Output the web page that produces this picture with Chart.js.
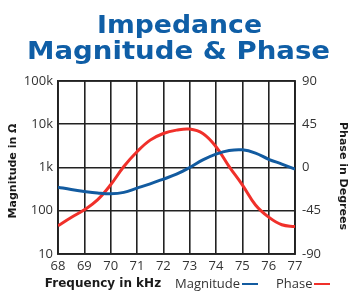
<!DOCTYPE html>
<html>
<head>
<meta charset="utf-8">
<script src="https://cdn.jsdelivr.net/npm/chart.js@4/dist/chart.umd.min.js"></script>
<style>
  html, body { margin: 0; padding: 0; background: #fff; }
  #wrap { position: relative; width: 351px; height: 297px; }
</style>
</head>
<body>
<div id="wrap"><canvas id="impChart" width="351" height="297"></canvas></div>
<script>
// frequency in kHz
const freq = [68, 68.5, 69, 69.5, 70, 70.5, 71, 71.5, 72, 72.5, 73, 73.5, 74, 74.5, 75, 75.5, 76, 76.5, 77];
// impedance magnitude in ohms
const magnitude = [352, 310, 280, 258, 247, 266, 334, 420, 540, 700, 1000, 1500, 2040, 2470, 2560, 2150, 1550, 1200, 920];
// phase in degrees
const phase = [-60.6, -52, -44, -33.7, -18, 1, 16.4, 28.5, 35.4, 38.9, 40, 35.4, 21.6, 1, -18, -39, -51.6, -59.6, -61.4];
const magTicks = [10, 100, 1000, 10000, 100000];
const magLabels = ['10', '100', '1k', '10k', '100k'];
const titleLines = ['Impedance', 'Magnitude & Phase'];

const blue = '#125ba0';
const red = '#f0302a';
const gridColor = '#222222';

const frameBox = {
    id: 'frameBox',
    beforeDatasetsDraw(chart) {
        const a = chart.chartArea;
        const ctx = chart.ctx;
        ctx.save();
        ctx.strokeStyle = gridColor;
        ctx.lineWidth = 1.6;
        ctx.strokeRect(a.left, a.top, a.right - a.left, a.bottom - a.top);
        ctx.restore();
    }
};

const extraText = {
    id: 'extraText',
    afterDraw(chart) {
        const ctx = chart.ctx;
        ctx.save();
        // title, stretched to the wide face of the original
        ctx.fillStyle = '#0f5ea6';
        ctx.font = 'bold 25px "DejaVu Sans"';
        ctx.textBaseline = 'alphabetic';
        const lines = [
            { text: titleLines[0], cx: 179.5, y: 33, w: 165 },
            { text: titleLines[1], cx: 178.5, y: 59, w: 303 }
        ];
        lines.forEach(l => {
            const mw = ctx.measureText(l.text).width;
            ctx.save();
            ctx.translate(l.cx, l.y);
            ctx.scale(l.w / mw, 1);
            ctx.textAlign = 'center';
            ctx.fillText(l.text, 0, 0);
            ctx.restore();
        });

        // axis titles
        ctx.fillStyle = '#1a1a1a';
        ctx.font = 'bold 11px "DejaVu Sans"';
        ctx.textAlign = 'center';
        ctx.textBaseline = 'middle';
        ctx.save();
        ctx.translate(13, 171);
        ctx.rotate(-Math.PI / 2);
        ctx.fillText('Magnitude in Ω', 0, 0);
        ctx.restore();
        ctx.save();
        ctx.translate(343, 176);
        ctx.rotate(Math.PI / 2);
        ctx.fillText('Phase in Degrees', 0, 0);
        ctx.restore();

        ctx.font = 'bold 12px "DejaVu Sans"';
        ctx.fillText('Frequency in kHz', 103, 284);

        // legend
        ctx.font = '13px "Open Sans"';
        ctx.fillStyle = '#333';
        ctx.textAlign = 'left';
        ctx.fillText('Magnitude', 175, 284);
        ctx.fillText('Phase', 276, 284);
        ctx.lineWidth = 2;
        ctx.strokeStyle = blue;
        ctx.beginPath();
        ctx.moveTo(242, 284);
        ctx.lineTo(258, 284);
        ctx.stroke();
        ctx.strokeStyle = red;
        ctx.beginPath();
        ctx.moveTo(314, 284);
        ctx.lineTo(330, 284);
        ctx.stroke();
        ctx.restore();
    }
};

new Chart(document.getElementById('impChart'), {
    type: 'line',
    data: {
        datasets: [{
            label: 'Magnitude',
            data: freq.map((f, i) => ({ x: f, y: magnitude[i] })),
            borderColor: blue,
            borderWidth: 3,
            pointRadius: 0,
            tension: 0.4,
            yAxisID: 'yMag'
        }, {
            label: 'Phase',
            data: freq.map((f, i) => ({ x: f, y: phase[i] })),
            borderColor: red,
            borderWidth: 3,
            pointRadius: 0,
            tension: 0.4,
            yAxisID: 'yPhase'
        }]
    },
    options: {
        responsive: false,
        animation: false,
        layout: { padding: { left: 0, right: 0, top: 81, bottom: 0 } },
        plugins: {
            legend: { display: false },
            title: { display: false },
            tooltip: { enabled: false }
        },
        scales: {
            x: {
                type: 'linear',
                min: 68,
                max: 77,
                afterFit: s => { s.height = 43; },
                ticks: { stepSize: 1, padding: 4, color: '#333', font: { family: 'Open Sans', size: 13 } },
                grid: { color: gridColor, lineWidth: 1.6, drawTicks: false },
                border: { color: gridColor, width: 1.6 }
            },
            yMag: {
                type: 'logarithmic',
                position: 'left',
                min: 10,
                max: 100000,
                afterFit: s => { s.width = 58; },
                afterBuildTicks: s => { s.ticks = magTicks.map(v => ({ value: v })); },
                ticks: {
                    padding: 5,
                    color: '#333',
                    font: { family: 'Open Sans', size: 13 },
                    callback: v => magLabels[magTicks.indexOf(v)]
                },
                grid: { color: gridColor, lineWidth: 1.6, drawTicks: false },
                border: { color: gridColor, width: 1.6 }
            },
            yPhase: {
                type: 'linear',
                position: 'right',
                min: -90,
                max: 90,
                afterFit: s => { s.width = 56; },
                ticks: { stepSize: 45, padding: 7, color: '#333', font: { family: 'Open Sans', size: 13 } },
                grid: { display: false, drawTicks: false },
                border: { color: gridColor, width: 1.6 }
            }
        }
    },
    plugins: [frameBox, extraText]
});
</script>
</body>
</html>
